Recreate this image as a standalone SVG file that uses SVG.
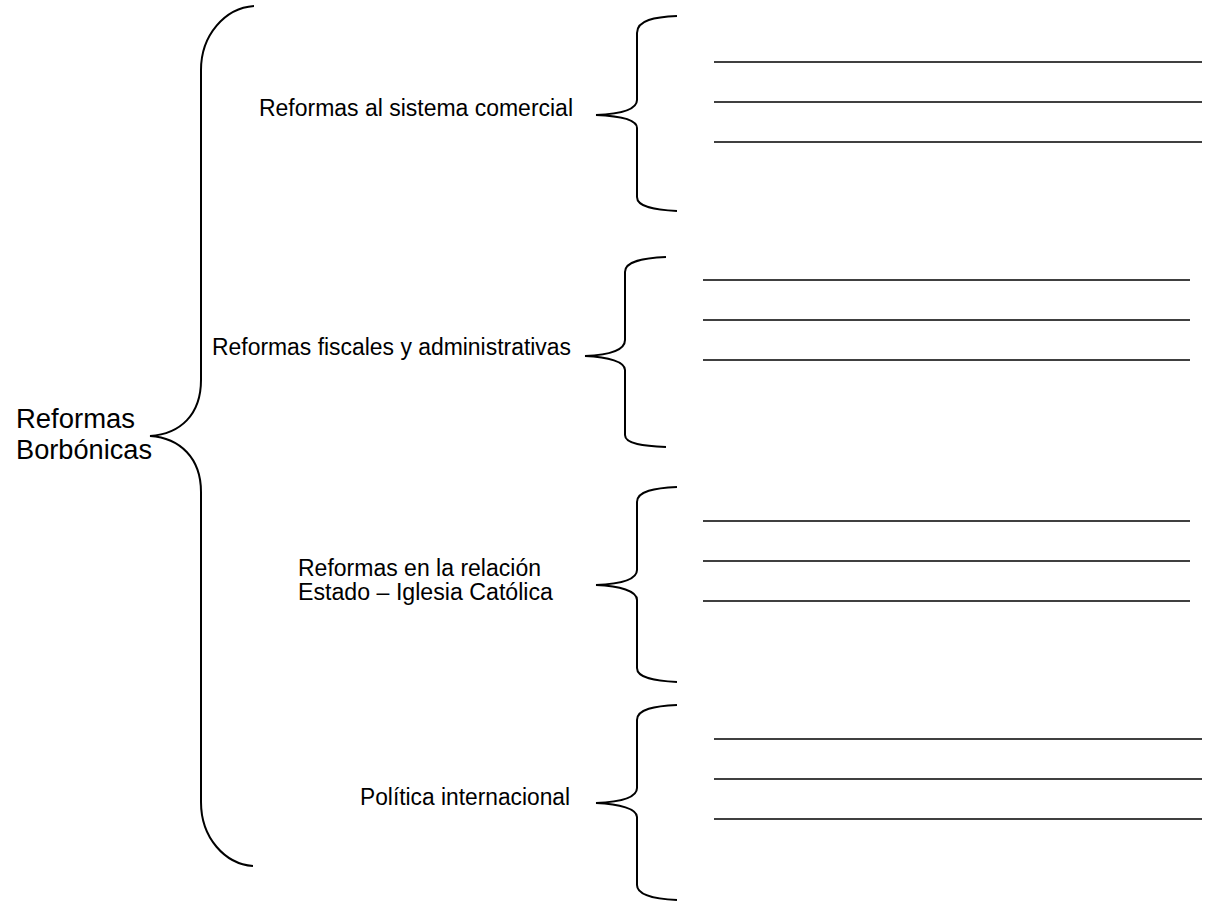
<svg xmlns="http://www.w3.org/2000/svg" width="1209" height="908" viewBox="0 0 1209 908">
<style>
.br{fill:none;stroke:#000;stroke-width:2}
.ln{stroke:#000;stroke-width:1.5}
text{font-family:"Liberation Sans",Arial,sans-serif;fill:#000}
.t{font-size:23px}
.big{font-size:27px}
</style>
<rect width="1209" height="908" fill="#fff"/>
<g id="root">
<text class="big" x="16" y="428" textLength="119" lengthAdjust="spacingAndGlyphs">Reformas</text>
<text class="big" x="16" y="459" textLength="136" lengthAdjust="spacingAndGlyphs">Borbónicas</text>
</g>
<g id="node1"><text class="t" x="259" y="116" textLength="314" lengthAdjust="spacingAndGlyphs">Reformas al sistema comercial</text></g>
<g id="node2"><text class="t" x="212" y="355" textLength="359" lengthAdjust="spacingAndGlyphs">Reformas fiscales y administrativas</text></g>
<g id="node3"><text class="t" x="298" y="576" textLength="243" lengthAdjust="spacingAndGlyphs">Reformas en la relación</text><text class="t" x="298" y="600" textLength="255" lengthAdjust="spacingAndGlyphs">Estado – Iglesia Católica</text></g>
<g id="node4"><text class="t" x="360" y="805" textLength="210" lengthAdjust="spacingAndGlyphs">Política internacional</text></g>
<g id="connectors">
<path class="br" d="M254,6 C225,8 201,35 201,70 L201,380 C201,415 180,434 150,436 C180,438 201,458 201,492 L201,802 C201,838 225,864 253,866"/>
<path class="br" d="M677,16 C655,17 637,20 637,33 L637,100 C637,110 620,114 596,115 C620,116 637,120 637,128 L637,197 C637,207 655,210 677,211"/>
<path class="br" d="M666,257 C644,258 625,261 625,272 L625,340 C625,350 609,355 585,356 C609,357 625,362 625,370 L625,435 C625,444 644,446 666,447"/>
<path class="br" d="M677,487 C655,488 637,491 637,502 L637,570 C637,580 620,584 596,585 C620,586 637,591 637,600 L637,668 C637,678 655,681 677,682"/>
<path class="br" d="M677,705 C655,706 637,709 637,720 L637,788 C637,798 620,802 596,803 C620,804 637,809 637,817 L637,885 C637,895 655,899 677,900"/>
</g>
<g id="lines">
<line class="ln" x1="714" y1="62" x2="1202" y2="62"/>
<line class="ln" x1="714" y1="102" x2="1202" y2="102"/>
<line class="ln" x1="714" y1="142" x2="1202" y2="142"/>
<line class="ln" x1="703" y1="280" x2="1190" y2="280"/>
<line class="ln" x1="703" y1="320" x2="1190" y2="320"/>
<line class="ln" x1="703" y1="360" x2="1190" y2="360"/>
<line class="ln" x1="703" y1="521" x2="1190" y2="521"/>
<line class="ln" x1="703" y1="561" x2="1190" y2="561"/>
<line class="ln" x1="703" y1="601" x2="1190" y2="601"/>
<line class="ln" x1="714" y1="739" x2="1202" y2="739"/>
<line class="ln" x1="714" y1="779" x2="1202" y2="779"/>
<line class="ln" x1="714" y1="819" x2="1202" y2="819"/>
</g>
</svg>
